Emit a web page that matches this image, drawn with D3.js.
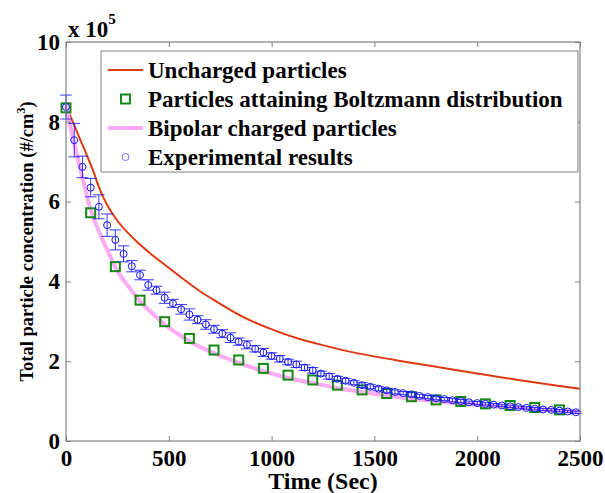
<!DOCTYPE html>
<html>
<head>
<meta charset="utf-8">
<script src="https://cdn.jsdelivr.net/npm/d3@7"></script>
<style>
	body { margin: 0; background: #ffffff; }
	text { font-family: "Liberation Serif", "DejaVu Serif", serif; font-weight: bold; fill: #000000; }
</style>
</head>
<body>
<div id="div_id_main"></div>
<script>

// ---------------------------------------------------------------
// data (y in units of 10^5 #/cm^3, x in seconds)

var vUncharged_T = [0, 90, 130, 165, 200, 250, 330, 410, 490, 570, 650, 730, 880, 980, 1140, 1220, 1380, 1600, 1800, 2000, 2200, 2400, 2500];
var vUncharged_N = [8.4, 7.3, 6.8, 6.3, 5.92, 5.52, 5.07, 4.7, 4.38, 4.06, 3.76, 3.5, 3.06, 2.84, 2.55, 2.44, 2.24, 2.03, 1.86, 1.69, 1.53, 1.38, 1.31];

var vBoltzmann_T = [0, 120, 240, 360, 480, 600, 720, 840, 960, 1080, 1200, 1320, 1440, 1560, 1680, 1800, 1920, 2040, 2160, 2280, 2400];
var vBoltzmann_N = [8.35, 5.72, 4.37, 3.53, 2.99, 2.57, 2.28, 2.03, 1.82, 1.65, 1.53, 1.40, 1.28, 1.19, 1.11, 1.03, 0.99, 0.93, 0.89, 0.84, 0.78];

var vBipolar_T = [0, 40, 80, 120, 160, 200, 240, 300, 360, 420, 480, 540, 600, 720, 840, 960, 1080, 1200, 1320, 1440, 1560, 1680, 1800, 1920, 2040, 2160, 2280, 2400, 2500];
var vBipolar_N = [8.4, 7.45, 6.6, 5.8, 5.25, 4.8, 4.35, 3.9, 3.5, 3.2, 2.92, 2.7, 2.5, 2.2, 1.96, 1.75, 1.58, 1.45, 1.33, 1.23, 1.14, 1.06, 1.0, 0.94, 0.89, 0.84, 0.8, 0.76, 0.73];

var vExp_T = [0, 40, 80, 120, 160, 200, 240, 280, 320, 360, 400, 440, 480, 520, 560, 600, 640, 680, 720, 760,
			  800, 840, 880, 920, 960, 1000, 1040, 1080, 1120, 1160, 1200, 1240, 1280, 1320, 1360, 1400, 1440, 1480, 1520, 1560,
			  1600, 1640, 1680, 1720, 1760, 1800, 1840, 1880, 1920, 1960, 2000, 2040, 2080, 2120, 2160, 2200, 2240, 2280, 2320, 2360,
			  2400, 2440, 2480];
var vExp_N = [8.37, 7.54, 6.87, 6.35, 5.87, 5.41, 5.04, 4.69, 4.38, 4.16, 3.91, 3.78, 3.59, 3.45, 3.30, 3.17, 3.04, 2.92, 2.80, 2.69,
			  2.59, 2.49, 2.41, 2.31, 2.22, 2.13, 2.06, 1.98, 1.92, 1.84, 1.77, 1.69, 1.62, 1.56, 1.51, 1.46, 1.40, 1.36, 1.31, 1.27,
			  1.23, 1.20, 1.17, 1.13, 1.10, 1.07, 1.05, 1.02, 1.00, 0.97, 0.95, 0.93, 0.91, 0.89, 0.87, 0.85, 0.83, 0.81, 0.79, 0.78,
			  0.76, 0.74, 0.72];
var vExp_Err = [0.30, 0.42, 0.27, 0.23, 0.30, 0.28, 0.25, 0.20, 0.14, 0.12, 0.13, 0.10, 0.14, 0.10, 0.12, 0.14, 0.10, 0.12, 0.10, 0.10,
				0.12, 0.09, 0.10, 0.08, 0.10, 0.08, 0.08, 0.07, 0.08, 0.07, 0.07, 0.06, 0.07, 0.06, 0.06, 0.05, 0.06, 0.05, 0.05, 0.05,
				0.05, 0.04, 0.05, 0.04, 0.04, 0.04, 0.04, 0.04, 0.04, 0.03, 0.04, 0.03, 0.03, 0.03, 0.03, 0.03, 0.03, 0.03, 0.03, 0.03,
				0.03, 0.03, 0.03];

var vXTicks = [0, 500, 1000, 1500, 2000, 2500];
var vYTicks = [0, 2, 4, 6, 8, 10];

var vLegend = ["Uncharged particles", "Particles attaining Boltzmann distribution", "Bipolar charged particles", "Experimental results"];

// ---------------------------------------------------------------

var WIDTH = 605;
var HEIGHT = 493;

var PLOT_LEFT = 66;
var PLOT_RIGHT = 580;
var PLOT_TOP = 42;
var PLOT_BOTTOM = 441;

var COLOR_AXIS = "#808080";
var COLOR_RED = "#dd3a12";
var COLOR_GREEN = "#138a13";
var COLOR_PINK = "#ffaaf4";
var COLOR_BLUE = "#1414ff";

var fScale_X = d3.scaleLinear().domain([0, 2500]).range([PLOT_LEFT, PLOT_RIGHT]);
var fScale_Y = d3.scaleLinear().domain([0, 10]).range([PLOT_BOTTOM, PLOT_TOP]);

function funcZip(vX, vY) {
	return vX.map(function (d, i) { return [d, vY[i]]; });
}

function funcDraw_Main() {

	let svgMain = d3.select("#div_id_main")
					.append("svg")
						.attr("width", WIDTH)
						.attr("height", HEIGHT);

	svgMain.append("rect")
				.attr("width", WIDTH)
				.attr("height", HEIGHT)
				.attr("fill", "#ffffff");

	let gPlot = svgMain.append("g");

	let line = d3.line()
					.x(function (d) { return fScale_X(d[0]); })
					.y(function (d) { return fScale_Y(d[1]); })
					.curve(d3.curveMonotoneX);

	// uncharged
	gPlot.append("path")
			.attr("d", line(funcZip(vUncharged_T, vUncharged_N)))
			.attr("fill", "none")
			.attr("stroke", COLOR_RED)
			.attr("stroke-width", 2);

	// bipolar
	gPlot.append("path")
			.attr("d", line(funcZip(vBipolar_T, vBipolar_N)))
			.attr("fill", "none")
			.attr("stroke", COLOR_PINK)
			.attr("stroke-width", 4);

	// boltzmann squares
	gPlot.selectAll("rect.rect_class_boltz")
			.data(funcZip(vBoltzmann_T, vBoltzmann_N))
			.enter()
			.append("rect")
				.attr("class", "rect_class_boltz")
				.attr("x", function (d) { return fScale_X(d[0]) - 4.5; })
				.attr("y", function (d) { return fScale_Y(d[1]) - 4.5; })
				.attr("width", 9)
				.attr("height", 9)
				.attr("fill", "none")
				.attr("stroke", COLOR_GREEN)
				.attr("stroke-width", 2);

	// experimental with error bars
	let dsExp = vExp_T.map(function (t, i) { return {"t":t, "n":vExp_N[i], "e":vExp_Err[i]}; });
	let nCapHalf = 28;

	let gErr = gPlot.selectAll("g.g_class_err")
					.data(dsExp)
					.enter()
					.append("g")
						.attr("class", "g_class_err")
						.attr("stroke", COLOR_BLUE)
						.attr("stroke-width", 1)
						.attr("stroke-opacity", 0.85);

	gErr.append("line")
			.attr("x1", function (d) { return fScale_X(d.t); })
			.attr("x2", function (d) { return fScale_X(d.t); })
			.attr("y1", function (d) { return fScale_Y(d.n - d.e); })
			.attr("y2", function (d) { return fScale_Y(d.n + d.e); });

	gErr.append("line")
			.attr("x1", function (d) { return fScale_X(d.t - nCapHalf); })
			.attr("x2", function (d) { return fScale_X(d.t + nCapHalf); })
			.attr("y1", function (d) { return fScale_Y(d.n + d.e); })
			.attr("y2", function (d) { return fScale_Y(d.n + d.e); });

	gErr.append("line")
			.attr("x1", function (d) { return fScale_X(d.t - nCapHalf); })
			.attr("x2", function (d) { return fScale_X(d.t + nCapHalf); })
			.attr("y1", function (d) { return fScale_Y(d.n - d.e); })
			.attr("y2", function (d) { return fScale_Y(d.n - d.e); });

	gPlot.selectAll("circle.circle_class_exp")
			.data(dsExp)
			.enter()
			.append("circle")
				.attr("class", "circle_class_exp")
				.attr("cx", function (d) { return fScale_X(d.t); })
				.attr("cy", function (d) { return fScale_Y(d.n); })
				.attr("r", 3.5)
				.attr("fill", "none")
				.attr("stroke", COLOR_BLUE)
				.attr("stroke-width", 1);

	funcDraw_Axes(svgMain);
	funcDraw_Legend(svgMain);
	funcDraw_Titles(svgMain);
}

function funcDraw_Axes(svgMain) {

	let gAxes = svgMain.append("g");

	gAxes.append("rect")
			.attr("x", PLOT_LEFT)
			.attr("y", PLOT_TOP)
			.attr("width", PLOT_RIGHT - PLOT_LEFT)
			.attr("height", PLOT_BOTTOM - PLOT_TOP)
			.attr("fill", "none")
			.attr("stroke", COLOR_AXIS)
			.attr("stroke-width", 1.2);

	let fmt = d3.format("d");

	let axisBottom = d3.axisBottom(fScale_X).tickValues(vXTicks).tickSizeInner(-5).tickSizeOuter(0).tickPadding(9).tickFormat(fmt);
	let axisTop = d3.axisTop(fScale_X).tickValues(vXTicks).tickSizeInner(-5).tickSizeOuter(0).tickFormat("");
	let axisLeft = d3.axisLeft(fScale_Y).tickValues(vYTicks).tickSizeInner(-5).tickSizeOuter(0).tickPadding(6).tickFormat(fmt);
	let axisRight = d3.axisRight(fScale_Y).tickValues(vYTicks).tickSizeInner(-5).tickSizeOuter(0).tickFormat("");

	let gB = gAxes.append("g").attr("transform", "translate(0," + PLOT_BOTTOM + ")").call(axisBottom);
	let gT = gAxes.append("g").attr("transform", "translate(0," + PLOT_TOP + ")").call(axisTop);
	let gL = gAxes.append("g").attr("transform", "translate(" + PLOT_LEFT + ",0)").call(axisLeft);
	let gR = gAxes.append("g").attr("transform", "translate(" + PLOT_RIGHT + ",0)").call(axisRight);

	[gB, gT, gL, gR].forEach(function (g) {
		g.select(".domain").remove();
		g.selectAll(".tick line").attr("stroke", COLOR_AXIS);
		g.selectAll(".tick text")
			.attr("font-family", "Liberation Serif, serif")
			.attr("font-weight", "bold")
			.attr("font-size", 23)
			.attr("fill", "#000000");
	});
}

function funcDraw_Legend(svgMain) {

	let nBox_X = 101;
	let nBox_Y = 51;
	let nBox_W = 477;
	let nBox_H = 121;
	let nRow_H = 29;
	let nSample_X1 = 108;
	let nSample_X2 = 143;
	let nText_X = 148;

	let gLegend = svgMain.append("g");

	gLegend.append("rect")
				.attr("x", nBox_X)
				.attr("y", nBox_Y)
				.attr("width", nBox_W)
				.attr("height", nBox_H)
				.attr("fill", "#ffffff")
				.attr("stroke", COLOR_AXIS)
				.attr("stroke-width", 1);

	let nMid = (nSample_X1 + nSample_X2) / 2;

	for (let i = 0; i < vLegend.length; i++) {

		let y = nBox_Y + 19 + i * nRow_H;

		if (i == 0) {
			gLegend.append("line")
						.attr("x1", nSample_X1).attr("x2", nSample_X2)
						.attr("y1", y).attr("y2", y)
						.attr("stroke", COLOR_RED)
						.attr("stroke-width", 2);
		}
		else if (i == 1) {
			gLegend.append("rect")
						.attr("x", nMid - 4.5).attr("y", y - 4.5)
						.attr("width", 9).attr("height", 9)
						.attr("fill", "none")
						.attr("stroke", COLOR_GREEN)
						.attr("stroke-width", 2);
		}
		else if (i == 2) {
			gLegend.append("line")
						.attr("x1", nSample_X1).attr("x2", nSample_X2)
						.attr("y1", y).attr("y2", y)
						.attr("stroke", COLOR_PINK)
						.attr("stroke-width", 4);
			gLegend.append("line")
						.attr("x1", nSample_X1).attr("x2", nSample_X2)
						.attr("y1", y).attr("y2", y)
						.attr("stroke", "#ff90ee")
						.attr("stroke-width", 1.5)
						.attr("stroke-dasharray", "1.5,2.5");
		}
		else {
			gLegend.append("circle")
						.attr("cx", nMid).attr("cy", y)
						.attr("r", 3.5)
						.attr("fill", "none")
						.attr("stroke", "#7070ff")
						.attr("stroke-width", 1);
		}

		gLegend.append("text")
					.attr("x", nText_X)
					.attr("y", y + 8)
					.attr("font-size", 23)
					.text(vLegend[i]);
	}
}

function funcDraw_Titles(svgMain) {

	let txtExp = svgMain.append("text")
						.attr("x", 68)
						.attr("y", 37)
						.attr("font-size", 23);

	txtExp.append("tspan").text("x 10");
	txtExp.append("tspan")
			.attr("dy", -13)
			.attr("font-size", 15)
			.text("5");

	svgMain.append("text")
				.attr("x", (PLOT_LEFT + PLOT_RIGHT) / 2)
				.attr("y", 489)
				.attr("text-anchor", "middle")
				.attr("font-size", 24)
				.text("Time (Sec)");

	let txtY = svgMain.append("text")
					.attr("transform", "translate(33," + ((PLOT_TOP + PLOT_BOTTOM) / 2) + ") rotate(-90)")
					.attr("text-anchor", "middle")
					.attr("font-size", 18.5);

	txtY.append("tspan").text("Total particle concentration (#/cm");
	txtY.append("tspan").attr("dy", -8).attr("font-size", 12).text("3");
	txtY.append("tspan").attr("dy", 8).text(")");
}

funcDraw_Main();

</script>
</body>
</html>
